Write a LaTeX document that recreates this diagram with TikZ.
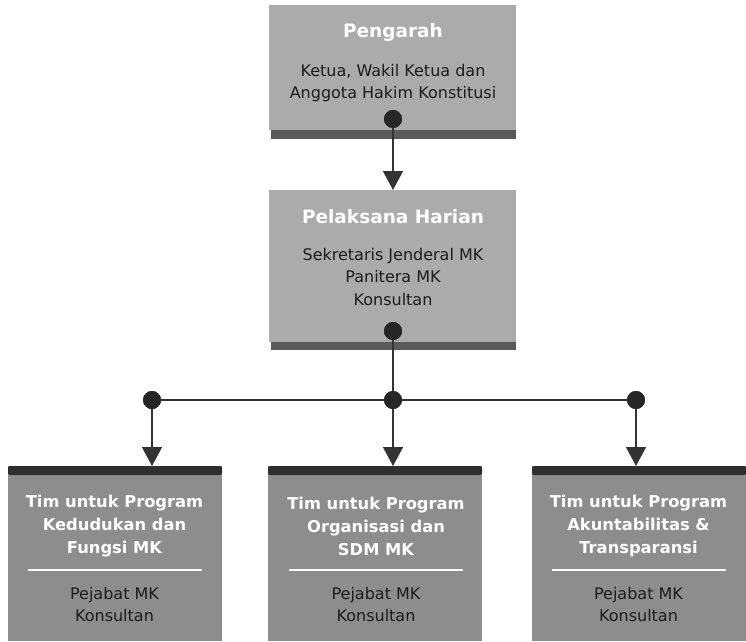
\documentclass[tikz,border=0pt]{standalone}
\usepackage{fontspec}
\setmainfont{DejaVu Sans}
\usetikzlibrary{arrows.meta}
\definecolor{topgray}{HTML}{ABABAB}
\definecolor{botgray}{HTML}{8D8D8D}
\definecolor{edgegray}{HTML}{5A5A5A}
\definecolor{bandgray}{HTML}{2E2E2E}
\definecolor{inkgray}{HTML}{1C1C1C}
\definecolor{linegray}{HTML}{333333}
\begin{document}
\begin{tikzpicture}[x=1pt,y=-1pt,
  boxbase/.style={draw=none, inner sep=0pt, anchor=north west},
  upperbox/.style={boxbase, fill=topgray, minimum width=247pt, minimum height=125pt},
  midbox/.style={boxbase, fill=topgray, minimum width=247pt, minimum height=152pt},
  lowerbox/.style={boxbase, fill=botgray, minimum width=214pt, minimum height=175pt},
  bigtitle/.style={text=white, font=\bfseries\fontsize{18.5}{22}\selectfont, inner sep=0pt},
  smalltitle/.style={text=white, align=center, font=\bfseries\fontsize{16.3}{23}\selectfont, inner sep=0pt},
  bodytext/.style={text=inkgray, align=center, font=\fontsize{16}{22.3}\selectfont, inner sep=0pt},
  joint/.style={circle, fill=black!85, inner sep=0pt, minimum size=18pt},
  link/.style={draw=linegray, line width=1.4pt},
  linkarrow/.style={link, -{Triangle[width=20pt,length=19pt]}}
]
\useasboundingbox (0,0) rectangle (746,641);
\fill[white] (0,0) rectangle (746,641);

% ---- top box ----
\fill[edgegray] (271,130) rectangle (516,139);
\node[upperbox] (pengarah) at (269,5) {};
\node[bigtitle] (pengarahT) at (393,32) {Pengarah};
\node[bodytext] (pengarahB) at (393,83) {Ketua, Wakil Ketua dan\\Anggota Hakim Konstitusi};
\node[joint] (d1) at (393,119) {};

% ---- middle box ----
\fill[edgegray] (271,342) rectangle (516,350);
\node[midbox] (harian) at (269,190) {};
\node[bigtitle] (harianT) at (393,217) {Pelaksana Harian};
\node[bodytext] (harianB) at (393,277) {Sekretaris Jenderal MK\\Panitera MK\\Konsultan};
\node[joint] (d2) at (393,331) {};

% ---- junction ----
\node[joint] (j1) at (152,400) {};
\node[joint] (j2) at (393,400) {};
\node[joint] (j3) at (636,400) {};

% ---- bottom boxes ----
\foreach \nm/\xl/\cx/\ttl in {
  kedudukan/8/114.5/{Tim untuk Program\\Kedudukan dan\\Fungsi MK},
  organisasi/268/376/{Tim untuk Program\\Organisasi dan\\SDM MK},
  akuntabilitas/532/638.5/{Tim untuk Program\\Akuntabilitas \&\\Transparansi}}{
  \node[lowerbox] (\nm) at (\xl,466) {};
  \fill[bandgray, rounded corners=2pt] (\xl,466) rectangle ++(214,9);
  \fill[bandgray] (\xl,470) rectangle ++(214,4);
  \node[smalltitle] (\nm T) at (\cx,526) {\ttl};
  \draw[white, line width=1.3pt] (\cx-87,570) -- (\cx+87,570);
  \node[bodytext] (\nm B) at (\cx,604.5) {Pejabat MK\\Konsultan};
}

% ---- connectors ----
\draw[linkarrow] (d1.center) -- (harian.north -| d1);
\draw[link] (d2.center) -- (j2.center);
\draw[link] (j1.center) -- (j3.center);
\coordinate (t1) at (152,466);
\coordinate (t2) at (393,466);
\coordinate (t3) at (636,466);
\draw[linkarrow] (j1.center) -- (t1);
\draw[linkarrow] (j2.center) -- (t2);
\draw[linkarrow] (j3.center) -- (t3);
\node[joint] at (d1) {};
\node[joint] at (d2) {};
\node[joint] at (j1) {};
\node[joint] at (j2) {};
\node[joint] at (j3) {};
\end{tikzpicture}
\end{document}
